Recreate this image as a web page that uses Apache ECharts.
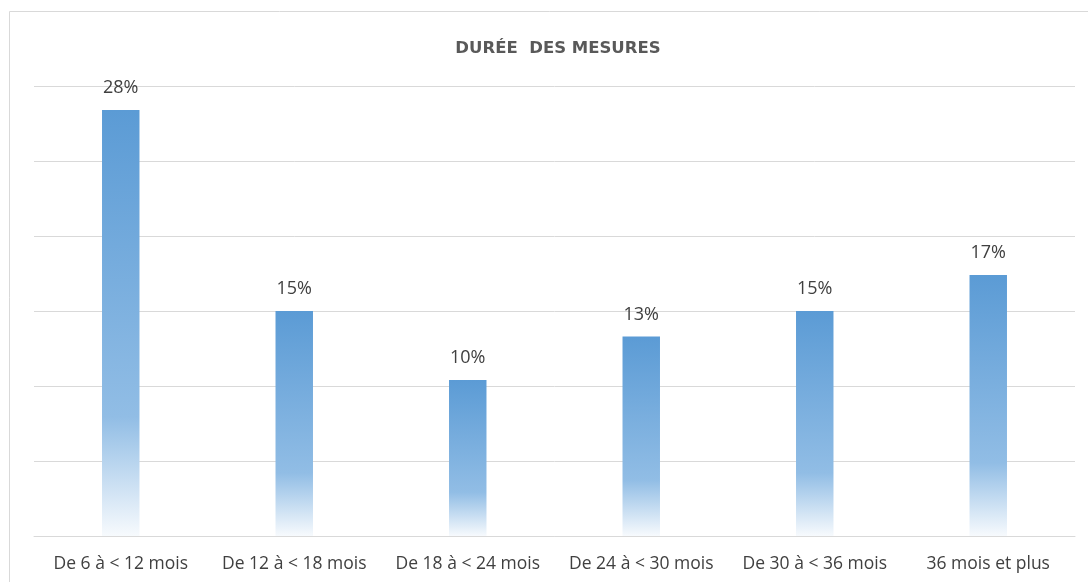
<!DOCTYPE html>
<html>
<head>
<meta charset="utf-8">
<script src="https://cdn.jsdelivr.net/npm/echarts@6/dist/echarts.min.js"></script>
<style>
  html, body { margin: 0; padding: 0; background: #fff; }
  #chart { width: 1088px; height: 582px; }
</style>
</head>
<body>
<div id="chart"></div>
<script>
  // données
  var categories = ['De 6 à < 12 mois', 'De 12 à < 18 mois', 'De 18 à < 24 mois', 'De 24 à < 30 mois', 'De 30 à < 36 mois', '36 mois et plus']
  var values = [28.4, 15.0, 10.4, 13.3, 15.0, 17.4]
  var title = 'DURÉE  DES MESURES'

  var chart = echarts.init(document.getElementById('chart'))
  var font = 'Open Sans, sans-serif'

  chart.setOption({
    animation: false,
    title: {
      text: title,
      left: 553,
      top: 35,
      textAlign: 'center',
      textStyle: {
        color: '#595959',
        fontSize: 16.5,
        fontWeight: 'bold',
        fontFamily: 'DejaVu Sans, sans-serif'
      }
    },
    graphic: [{
      type: 'rect',
      shape: { x: 9.5, y: 11.5, width: 1100, height: 600 },
      style: { fill: 'none', stroke: '#d9d9d9', lineWidth: 1 },
      silent: true
    }],
    grid: {
      left: 34,
      right: 13,
      top: 86,
      bottom: 46,
      containLabel: false
    },
    xAxis: {
      type: 'category',
      data: categories,
      axisTick: { show: false },
      axisLine: { lineStyle: { color: '#d9d9d9' } },
      axisLabel: {
        color: '#404040',
        fontSize: 17.5,
        fontFamily: font,
        margin: 19,
        interval: 0
      }
    },
    yAxis: {
      type: 'value',
      min: 0,
      max: 30,
      interval: 5,
      axisLabel: { show: false },
      axisLine: { show: false },
      axisTick: { show: false },
      splitLine: { lineStyle: { color: '#d9d9d9' } }
    },
    series: [{
      type: 'bar',
      data: values,
      barWidth: '21.6%',
      itemStyle: {
        color: new echarts.graphic.LinearGradient(0, 0, 0, 1, [
          { offset: 0, color: '#5b9bd5' },
          { offset: 0.72, color: '#91bde5' },
          { offset: 1, color: '#f7fafd' }
        ])
      },
      label: {
        show: true,
        position: 'top',
        distance: 13,
        color: '#404040',
        fontSize: 18,
        fontFamily: font,
        formatter: function (p) { return Math.round(p.value) + '%' }
      }
    }]
  })
</script>
</body>
</html>
